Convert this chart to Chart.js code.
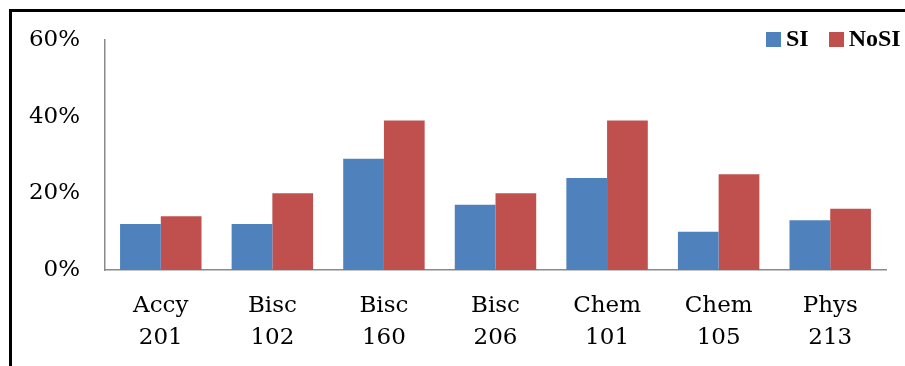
<!DOCTYPE html>
<html lang="en">
<head>
  <meta charset="UTF-8">
  <title>SI vs NoSI</title>
  <script src="https://cdn.jsdelivr.net/npm/chart.js"></script>
  <style>
    body {
      margin: 0;
      padding: 0;
      background: white;
      overflow: hidden;
    }

    .frame {
      position: absolute;
      left: 9px;
      top: 9px;
      width: 2000px;
      height: 1000px;
      border-top: 3px solid #000;
      border-left: 3px solid #000;
    }

    .wrap {
      position: absolute;
      left: 0;
      top: 0;
      width: 905px;
      height: 366px;
    }

    .legend {
      position: absolute;
      top: 25px;
      left: 766px;
      font-family: "Liberation Serif", serif;
      font-weight: bold;
      font-size: 24px;
      white-space: nowrap;
    }

    .legend span.box {
      display: inline-block;
      width: 15px;
      height: 15px;
      margin-right: 5px;
      vertical-align: -1px;
    }

    .legend span.gap {
      display: inline-block;
      width: 20px;
    }
  </style>
</head>
<body>
  <div class="frame"></div>
  <div class="wrap">
    <canvas id="chart" width="905" height="366"></canvas>
  </div>
  <div class="legend">
    <span class="box" style="background:#4F81BD"></span>SI<span class="gap"></span><span class="box" style="background:#C0504D"></span>NoSI
  </div>

  <script>
    // course labels (two lines each)
    const courses = [
      ["Accy", "201"],
      ["Bisc", "102"],
      ["Bisc", "160"],
      ["Bisc", "206"],
      ["Chem", "101"],
      ["Chem", "105"],
      ["Phys", "213"]
    ];

    // percentages
    const siValues = [12, 12, 29, 17, 24, 10, 13];
    const noSiValues = [14, 20, 39, 20, 39, 25, 16];

    const yTicks = [0, 20, 40, 60];

    const serif = "'DejaVu Serif', serif";

    const ctx = document.getElementById('chart').getContext('2d');

    new Chart(ctx, {
      type: 'bar',
      data: {
        labels: courses,
        datasets: [{
          label: 'SI',
          data: siValues,
          backgroundColor: '#4F81BD'
        }, {
          label: 'NoSI',
          data: noSiValues,
          backgroundColor: '#C0504D'
        }]
      },
      options: {
        responsive: false,
        animation: false,
        layout: {
          padding: { left: 0, right: 19, top: 40, bottom: 0 }
        },
        datasets: {
          bar: {
            categoryPercentage: 0.73,
            barPercentage: 1.0
          }
        },
        plugins: {
          legend: { display: false },
          tooltip: { enabled: false }
        },
        scales: {
          x: {
            grid: { display: false, drawTicks: false },
            border: { color: '#8a8a8a', width: 1.5 },
            ticks: {
              color: '#000',
              padding: 20,
              maxRotation: 0,
              font: { family: serif, size: 23, lineHeight: 1.4 }
            },
            afterFit: function (scale) { scale.height = 96; }
          },
          y: {
            min: 0,
            max: 60,
            afterBuildTicks: function (scale) {
              scale.ticks = yTicks.map(v => ({ value: v }));
            },
            grid: { display: false, drawTicks: false },
            border: { color: '#8a8a8a', width: 1.5 },
            ticks: {
              color: '#000',
              padding: 25,
              font: { family: serif, size: 23 },
              callback: function (v) { return v + '%'; }
            },
            afterFit: function (scale) { scale.width = 105; }
          }
        }
      }
    });
  </script>
</body>
</html>
